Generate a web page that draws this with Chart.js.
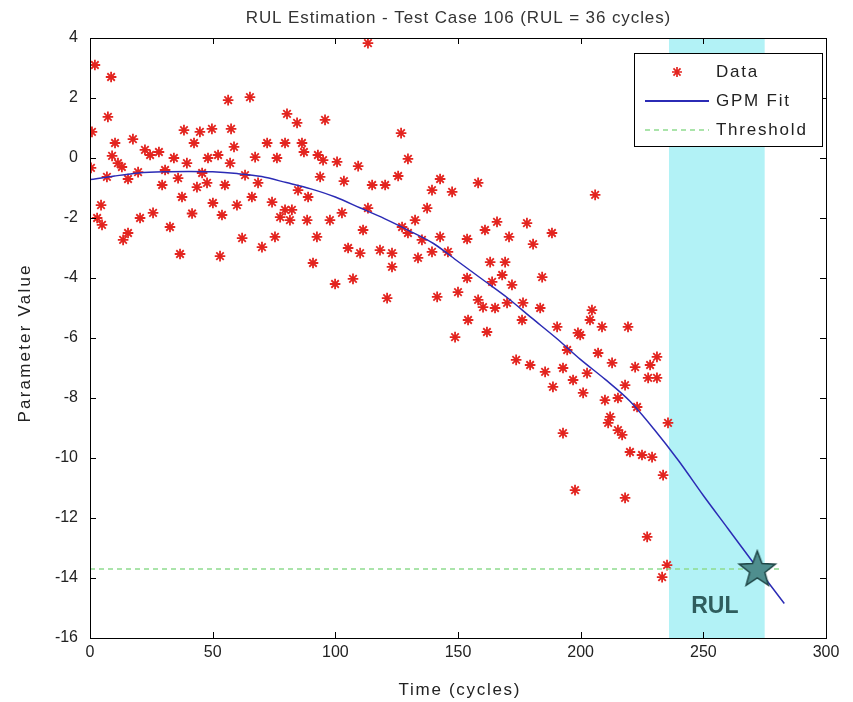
<!DOCTYPE html>
<html>
<head>
<meta charset="utf-8">
<script src="https://cdn.jsdelivr.net/npm/chart.js@4.4.1/dist/chart.umd.min.js"></script>
<style>
  html, body { margin: 0; padding: 0; background: #ffffff; }
  #wrap { width: 853px; height: 702px; position: relative; }
</style>
</head>
<body>
<div id="wrap"><canvas id="c" width="853" height="702"></canvas></div>
<script>
// ---------------- data ----------------
const chartTitle = 'RUL Estimation - Test Case 106 (RUL = 36 cycles)';
const xAxisLabel = 'Time (cycles)';
const yAxisLabel = 'Parameter Value';
const xTicks = [0, 50, 100, 150, 200, 250, 300];
const yTicks = [-16, -14, -12, -10, -8, -6, -4, -2, 0, 2, 4];
const legendLabels = ['Data', 'GPM Fit', 'Threshold'];

const dataX = [
  2.0, 8.6, 56.3, 65.2, 7.3, 0.8, 38.3, 44.8, 49.7, 57.5, 42.4, 10.2, 17.5, 58.7, 22.4, 24.5, 28.1, 34.2, 39.5, 48.1,
  52.2, 57.1, 67.3, 9.0, 11.4, 13.0, 0.4, 6.9, 15.5, 19.6, 30.6, 35.9, 45.7, 63.2, 29.4, 43.6, 47.7, 55.0, 68.5, 37.5,
  66.0, 4.5, 50.1, 59.9, 53.8, 25.7, 2.9, 4.9, 20.4, 41.6, 32.6, 15.5, 13.5, 62.0, 36.7, 53.0, 70.1,
  113.3, 80.3, 84.4, 95.8, 126.8, 72.2, 79.5, 86.4, 87.2, 92.9, 95.0, 100.7, 109.3, 129.6, 76.2, 93.8, 103.5, 115.0,
  120.3, 125.6, 142.7, 139.4, 84.8, 88.9, 74.2, 79.5, 82.3, 77.5, 81.5, 88.5, 97.8, 102.7, 113.3, 137.4, 127.2, 132.5,
  129.6, 135.3, 142.7, 75.4, 92.5, 111.3, 105.2, 110.1, 118.2, 123.1, 133.7, 123.1, 90.9, 99.9, 107.2, 121.1, 141.5,
  158.2, 147.6, 165.9, 178.1, 188.3, 153.7, 161.0, 170.8, 180.6, 145.9, 139.4, 163.1, 169.2, 168.0, 163.9, 153.7, 172.0,
  184.3, 150.0, 158.2, 160.2, 165.1, 170.0, 176.5, 183.5, 176.1, 190.4, 154.1, 148.8, 161.8, 194.5, 198.9, 173.7, 179.4,
  185.5, 192.8, 196.9, 188.7,
  205.9, 204.6, 203.8, 208.7, 219.3, 199.8, 207.1, 231.1, 212.8, 222.2, 228.3, 227.5, 231.1, 202.6, 201.0, 218.1, 209.9,
  215.2, 223.0, 212.0, 211.2, 215.2, 216.9, 235.6, 192.8, 220.1, 225.0, 229.1, 233.6, 197.7, 218.1, 227.1, 235.2, 233.2
];
const dataY = [
  3.1, 2.7, 1.93, 2.03, 1.37, 0.87, 0.93, 0.87, 0.97, 0.97, 0.5, 0.5, 0.63, 0.37, 0.27, 0.1, 0.2, 0.0, -0.17, 0.0,
  0.1, -0.17, 0.03, 0.07, -0.17, -0.3, -0.33, -0.63, -0.7, -0.47, -0.4, -0.67, -0.5, -0.57, -0.9, -0.97, -0.83, -0.9, -0.83, -1.3,
  -1.3, -1.57, -1.5, -1.57, -1.9, -1.83, -2.0, -2.23, -2.0, -1.85, -2.3, -2.5, -2.73, -2.67, -3.2, -3.27, -2.97,
  3.83, 1.47, 1.17, 1.27, 0.83, 0.5, 0.5, 0.5, 0.2, 0.1, -0.07, -0.13, -0.27, -0.03, 0.0, -0.63, -0.77, -0.9,
  -0.9, -0.6, -0.7, -1.07, -1.07, -1.3, -1.47, -1.73, -1.73, -1.97, -2.07, -2.07, -2.07, -1.83, -1.67, -1.67, -2.3, -2.07,
  -2.5, -2.73, -2.63, -2.63, -2.63, -2.4, -3.0, -3.17, -3.07, -3.17, -3.33, -3.63, -3.5, -4.2, -4.03, -4.67, -4.63,
  -0.83, -1.13, -2.13, -2.17, -2.5, -2.7, -2.4, -2.63, -2.87, -3.13, -3.13, -3.47, -3.47, -3.9, -4.13, -4.0, -4.23,
  -3.97, -4.47, -4.73, -4.97, -5.0, -4.83, -4.83, -5.0, -5.4, -5.63, -5.4, -5.97, -5.8, -6.4, -5.83, -6.73, -6.9,
  -7.13, -7.0, -7.4, -7.63,
  -1.23, -5.07, -5.4, -5.63, -5.63, -5.9, -6.5, -6.63, -6.83, -6.97, -6.9, -7.33, -7.33, -7.17, -7.83, -7.57, -8.07,
  -8.0, -8.3, -8.63, -8.83, -9.07, -9.23, -8.83, -9.17, -9.8, -9.9, -9.97, -10.57, -11.07, -11.33, -12.63, -13.57, -13.97
];

const fitX = [0, 10, 20, 30, 40, 50, 60, 70, 80, 90, 100, 110, 120, 130, 140, 150, 160, 170, 180, 190, 200, 210, 220, 230, 240, 250, 260, 270, 283];
const fitY = [-0.72, -0.6, -0.5, -0.46, -0.45, -0.46, -0.52, -0.62, -0.82, -1.03, -1.3, -1.66, -2.02, -2.42, -2.85, -3.45, -4.05, -4.65, -5.33, -6.0, -6.72, -7.38, -8.1, -9.05, -10.1, -11.25, -12.35, -13.45, -14.85];

const thresholdValue = -13.7;
const thresholdX = [0, 282];
const rulStart = 236;
const rulEnd = 275;
const failureX = 272;
const failureY = -13.7;
const rulText = 'RUL';

// ---------------- styles ----------------
const FONT = "'Liberation Sans', Arial, Helvetica, sans-serif";
const RED = '#e3241f';
const BLUE = '#2b2bb5';
const GREEN = '#8fdc8f';
const CYAN = '#b2f2f6';

function makeStar(r, fill, stroke) {
  const c = document.createElement('canvas');
  const s = Math.ceil(r * 2 + 4);
  c.width = s; c.height = s;
  const g = c.getContext('2d');
  g.beginPath();
  for (let i = 0; i < 10; i++) {
    const a = -Math.PI / 2 + i * Math.PI / 5;
    const rad = (i % 2) ? r * 0.42 : r;
    const px = s / 2 + rad * Math.cos(a), py = s / 2 + 1 + rad * Math.sin(a);
    if (i === 0) g.moveTo(px, py); else g.lineTo(px, py);
  }
  g.closePath();
  g.fillStyle = fill; g.fill();
  g.lineWidth = 1.5; g.strokeStyle = stroke; g.stroke();
  return c;
}
const starImg = makeStar(19, '#4f8e8e', '#1f4646');

const scatterPts = dataX.map((x, i) => ({ x: x, y: dataY[i] }));
const fitPts = fitX.map((x, i) => ({ x: x, y: fitY[i] }));
const threshPts = thresholdX.map(x => ({ x: x, y: thresholdValue }));

function spacedText(ctx, text, x, y, spacing) {
  try { ctx.letterSpacing = spacing + 'px'; } catch (e) {}
  ctx.fillText(text, x + spacing / 2, y);
  try { ctx.letterSpacing = '0px'; } catch (e) {}
}

const bandPlugin = {
  id: 'band',
  beforeDatasetsDraw(chart) {
    const { ctx, chartArea, scales } = chart;
    const x0 = scales.x.getPixelForValue(rulStart), x1 = scales.x.getPixelForValue(rulEnd);
    ctx.save();
    ctx.fillStyle = CYAN;
    ctx.fillRect(x0, chartArea.top, x1 - x0, chartArea.bottom - chartArea.top);
    ctx.restore();
  },
  afterDatasetsDraw(chart) {
    const { ctx, scales } = chart;
    ctx.save();
    ctx.fillStyle = '#2f5d5d';
    ctx.font = "bold 23px " + FONT;
    ctx.textAlign = 'center';
    ctx.textBaseline = 'middle';
    ctx.fillText(rulText, scales.x.getPixelForValue((rulStart + rulEnd) / 2) - 2, scales.y.getPixelForValue(-14.95));
    ctx.restore();
  }
};

const framePlugin = {
  id: 'frame',
  afterDraw(chart) {
    const { ctx, chartArea: a, scales } = chart;
    ctx.save();
    ctx.strokeStyle = '#000';
    ctx.lineWidth = 1;
    ctx.strokeRect(Math.round(a.left) + 0.5, Math.round(a.top) + 0.5, Math.round(a.right - a.left), Math.round(a.bottom - a.top));
    const tl = 6;
    ctx.beginPath();
    xTicks.forEach(v => {
      const px = Math.round(scales.x.getPixelForValue(v)) + 0.5;
      ctx.moveTo(px, a.bottom); ctx.lineTo(px, a.bottom - tl);
      ctx.moveTo(px, a.top); ctx.lineTo(px, a.top + tl);
    });
    yTicks.forEach(v => {
      const py = Math.round(scales.y.getPixelForValue(v)) + 0.5;
      ctx.moveTo(a.left, py); ctx.lineTo(a.left + tl, py);
      ctx.moveTo(a.right, py); ctx.lineTo(a.right - tl, py);
    });
    ctx.stroke();

    // titles
    ctx.textAlign = 'center';
    ctx.textBaseline = 'middle';
    ctx.fillStyle = '#333';
    ctx.font = "17px " + FONT;
    spacedText(ctx, chartTitle, (a.left + a.right) / 2, 18, 0.9);
    ctx.fillStyle = '#222';
    spacedText(ctx, xAxisLabel, (a.left + a.right) / 2 + 1, 690, 1.7);
    ctx.save();
    ctx.translate(25, (a.top + a.bottom) / 2 + 6);
    ctx.rotate(-Math.PI / 2);
    spacedText(ctx, yAxisLabel, 0, 0, 2.2);
    ctx.restore();

    // legend box
    const R = a.right - 4, T = a.top + 15, W = 188, H = 93, L = R - W;
    ctx.fillStyle = '#fff';
    ctx.fillRect(L, T, W, H);
    ctx.strokeStyle = '#000';
    ctx.strokeRect(Math.round(L) + 0.5, Math.round(T) + 0.5, W, H);
    const rowY = [T + 19, T + 48, T + 77];
    const sx0 = L + 11, sx1 = L + 75, tx = L + 81;
    ctx.strokeStyle = RED; ctx.lineWidth = 1.7;
    Chart.helpers.drawPoint(ctx, { pointStyle: 'star', radius: 5, borderWidth: 1.7 }, (sx0 + sx1) / 2, rowY[0]);
    ctx.strokeStyle = BLUE; ctx.lineWidth = 2;
    ctx.beginPath(); ctx.moveTo(sx0, rowY[1]); ctx.lineTo(sx1, rowY[1]); ctx.stroke();
    ctx.strokeStyle = GREEN; ctx.lineWidth = 1.5; ctx.setLineDash([5, 4]);
    ctx.beginPath(); ctx.moveTo(sx0, rowY[2]); ctx.lineTo(sx1, rowY[2]); ctx.stroke();
    ctx.setLineDash([]);
    ctx.fillStyle = '#222';
    ctx.font = "17px " + FONT;
    ctx.textAlign = 'left';
    ctx.textBaseline = 'middle';
    legendLabels.forEach((t, i) => spacedText(ctx, t, tx, rowY[i], 1.8));
    ctx.restore();
  }
};

new Chart(document.getElementById('c'), {
  type: 'scatter',
  data: {
    datasets: [
      { label: 'Failure', data: [{ x: failureX, y: failureY }], pointStyle: starImg, pointRadius: 19, order: 0 },
      { label: legendLabels[1], type: 'line', data: fitPts, borderColor: BLUE, borderWidth: 1.5, pointRadius: 0, tension: 0.3, fill: false, order: 1 },
      { label: legendLabels[2], type: 'line', data: threshPts, borderColor: GREEN, borderWidth: 1.5, borderDash: [5, 4], pointRadius: 0, fill: false, order: 2 },
      { label: legendLabels[0], data: scatterPts, pointStyle: 'star', pointRadius: 5.3, borderColor: RED, backgroundColor: RED, pointBorderWidth: 1.8, borderWidth: 1.8, order: 3 }
    ]
  },
  options: {
    responsive: false,
    animation: false,
    events: [],
    layout: { padding: { top: 38, left: 0, right: 27, bottom: 0 } },
    plugins: {
      legend: { display: false },
      tooltip: { enabled: false },
      title: { display: false }
    },
    scales: {
      x: {
        type: 'linear', min: 0, max: 300,
        afterBuildTicks: s => { s.ticks = xTicks.map(v => ({ value: v })); },
        afterFit: s => { s.height = 64; },
        grid: { display: false, drawTicks: false },
        border: { display: false },
        ticks: { color: '#222', font: { family: FONT, size: 16 }, padding: 5, maxRotation: 0 },
        title: { display: false }
      },
      y: {
        type: 'linear', min: -16, max: 4,
        afterBuildTicks: s => { s.ticks = yTicks.map(v => ({ value: v })); },
        afterFit: s => { s.width = 90; },
        grid: { display: false, drawTicks: false },
        border: { display: false },
        ticks: { color: '#222', font: { family: FONT, size: 16 }, padding: 12 },
        title: { display: false }
      }
    }
  },
  plugins: [bandPlugin, framePlugin]
});
</script>
</body>
</html>
